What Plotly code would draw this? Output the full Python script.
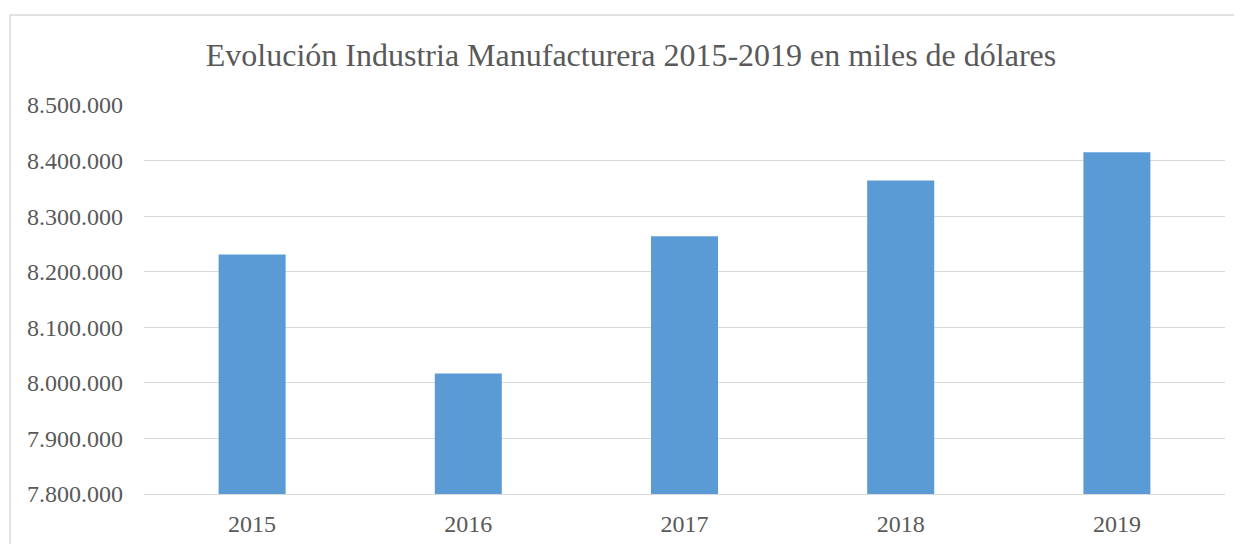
import plotly.graph_objects as go

years = ["2015", "2016", "2017", "2018", "2019"]
values = [8231000, 8017000, 8264000, 8364000, 8415000]
y_ticks = [7800000, 7900000, 8000000, 8100000, 8200000, 8300000, 8400000, 8500000]
title_text = "Evolución Industria Manufacturera 2015-2019 en miles de dólares"

OFF = 8  # browser body margin
W, H = 1242 - OFF, 544 - OFF
L, R, T, B = 144 - OFF, 17, 104.5 - OFF, 50
pw = W - L - R
ph = H - T - B

fig = go.Figure(go.Bar(x=years, y=values, marker=dict(color="#5B9BD5", line=dict(width=0))))

bx = (10 - OFF - L) / pw
by_top = (H - (14.5 - OFF) - B) / ph
border = dict(color="#D9D9D9", width=1.5)

fig.update_layout(
    width=W, height=H,
    margin=dict(l=L, r=R, t=T, b=B, autoexpand=False),
    paper_bgcolor="white", plot_bgcolor="white",
    separators=",.",
    bargap=0.69,
    showlegend=False,
    font=dict(family="Liberation Serif", color="#595959"),
    title=dict(text=title_text, x=(631 - OFF) / W, xanchor="center", y=1 - (55 - OFF) / H, yanchor="middle",
               font=dict(family="Liberation Serif", size=32, color="#595959")),
    xaxis=dict(showline=True, linecolor="#D9D9D9", linewidth=1, ticks="",
               tickfont=dict(size=24, color="#595959"), ticklabelstandoff=8),
    yaxis=dict(range=[7800000, 8500000], tickvals=y_ticks, tickformat=",d",
               showgrid=True, gridcolor="#D9D9D9", gridwidth=1, zeroline=False,
               ticks="", tickfont=dict(size=24, color="#595959"), ticklabelstandoff=20),
    shapes=[
        dict(type="line", xref="paper", yref="paper", x0=bx, x1=(W + 20 - L) / pw,
             y0=by_top, y1=by_top, line=border, layer="below"),
        dict(type="line", xref="paper", yref="paper", x0=bx, x1=bx,
             y0=by_top, y1=-(B + 20) / ph, line=border, layer="below"),
    ],
)

fig.write_html("out.html", config={"displayModeBar": False})
